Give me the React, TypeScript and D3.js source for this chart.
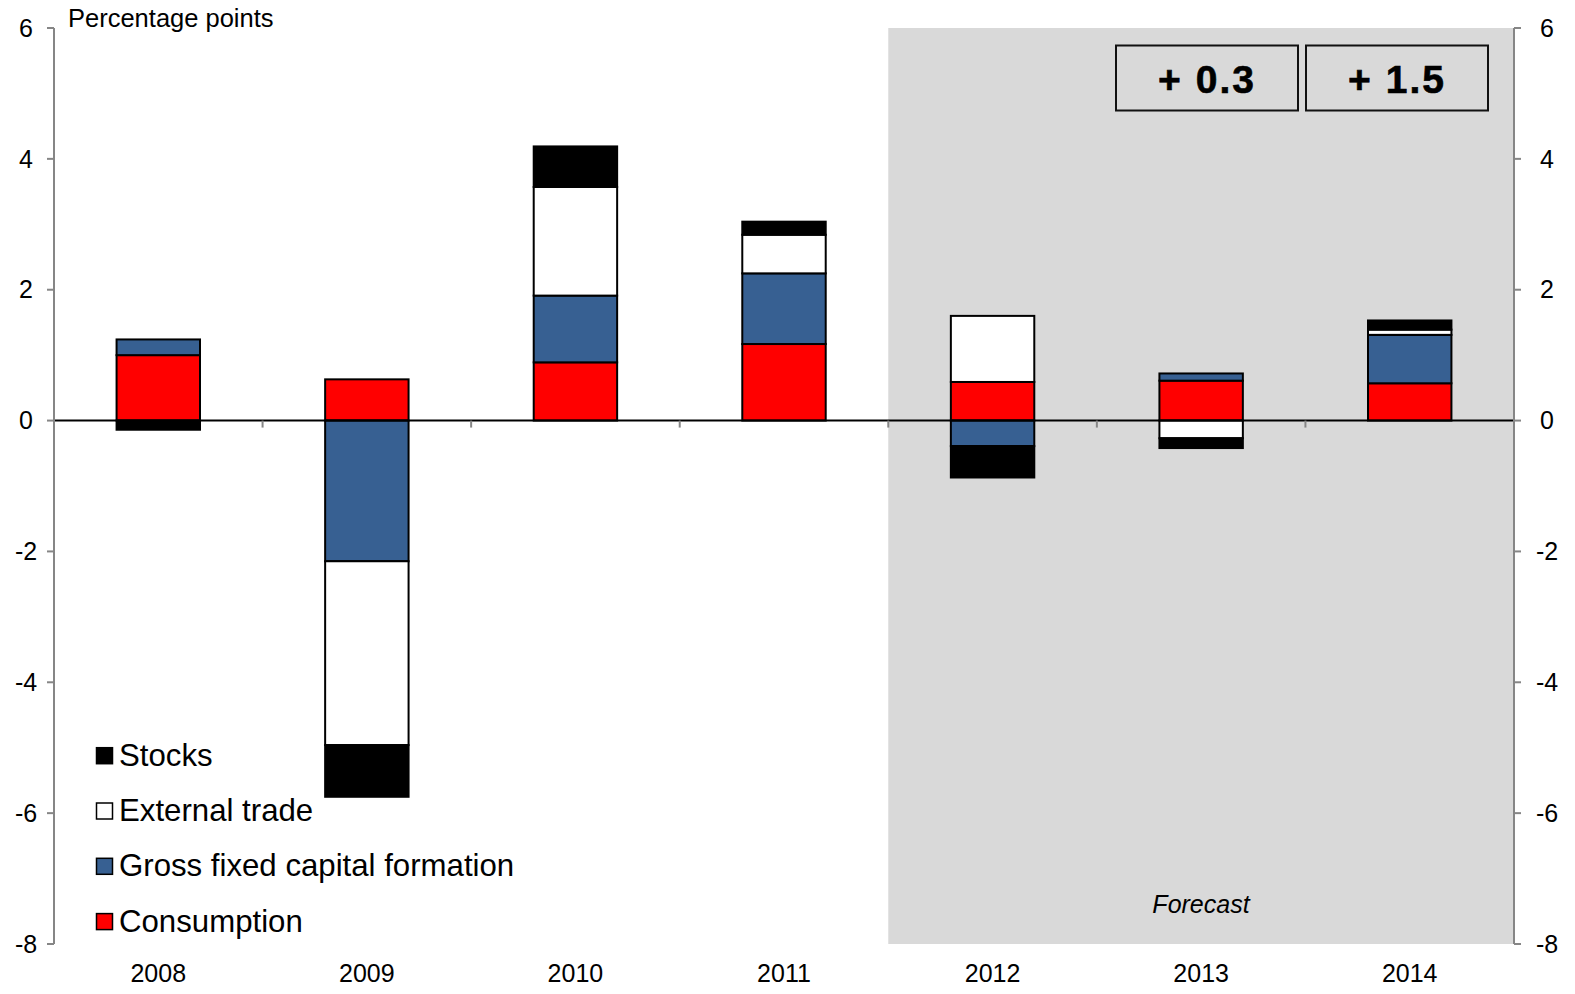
import React from "react";
import * as d3 from "d3";

const years = ["2008", "2009", "2010", "2011", "2012", "2013", "2014"];
const consumption = [1.0, 0.63, 0.89, 1.17, 0.59, 0.61, 0.57];
const gfcf = [0.24, -2.15, 1.02, 1.08, -0.39, 0.11, 0.74];
const externalTrade = [0.0, -2.81, 1.66, 0.59, 1.01, -0.27, 0.08];
const stocks = [-0.14, -0.79, 0.62, 0.2, -0.48, -0.15, 0.14];
const yTicks = [6, 4, 2, 0, -2, -4, -6, -8];
const forecastYears = ["2012", "2013", "2014"];
const boxLabels = ["+ 0.3", "+ 1.5"];

const seriesKeys = ["Consumption", "GFCF", "External trade", "Stocks"];
const seriesColors: Record<string, string> = {
  Consumption: "#FF0000",
  GFCF: "#376092",
  "External trade": "#FFFFFF",
  Stocks: "#000000",
};
const legendItems = [
  { key: "Stocks", label: "Stocks" },
  { key: "External trade", label: "External trade" },
  { key: "GFCF", label: "Gross fixed capital formation" },
  { key: "Consumption", label: "Consumption" },
];

const W = 1575;
const H = 994;
const left = 54;
const right = 1514;
const top = 28;
const bottom = 944;

export default function App() {
  const rows = years.map((y, i) => ({
    year: y,
    Consumption: consumption[i],
    GFCF: gfcf[i],
    "External trade": externalTrade[i],
    Stocks: stocks[i],
  }));
  const stack = d3
    .stack<any>()
    .keys(seriesKeys)
    .offset(d3.stackOffsetDiverging);
  const series = stack(rows);

  const x = d3
    .scaleBand<string>()
    .domain(years)
    .range([left, right])
    .paddingInner(0.6)
    .paddingOuter(0.3);
  const y = d3.scaleLinear().domain([-8, 6]).range([bottom, top]);
  const step = x.step();
  const fStart = (x(forecastYears[0]) as number) - (step - x.bandwidth()) / 2;

  const font = "Liberation Sans, Arial, sans-serif";
  const axisGray = "#868686";

  return (
    <svg
      width={W}
      height={H}
      style={{ position: "absolute", left: 0, top: 0, background: "#fff" }}
      fontFamily={font}
    >
      <rect x={0} y={0} width={W} height={H} fill="#fff" />
      {/* forecast shading */}
      <rect x={fStart} y={top} width={right - fStart} height={bottom - top} fill="#D9D9D9" />

      {/* boxes */}
      {boxLabels.map((t, i) => {
        const bx = 1116 + i * 190;
        return (
          <g key={t}>
            <rect x={bx} y={45.5} width={182} height={65} fill="none" stroke="#111" strokeWidth={2} />
            <text
              x={bx + 91}
              y={92.5}
              textAnchor="middle"
              fontSize={39}
              fontWeight="bold"
              letterSpacing={2}
              stroke="#000"
              strokeWidth={0.6}
            >
              {t}
            </text>
          </g>
        );
      })}

      {/* bars */}
      {series.map((s) => (
        <g key={s.key}>
          {s.map((d, i) => {
            const v0 = d[0];
            const v1 = d[1];
            if (Math.abs(v1 - v0) < 1e-9) return null;
            const yTop = y(Math.max(v0, v1));
            const yBot = y(Math.min(v0, v1));
            return (
              <rect
                key={i}
                x={x(years[i]) as number}
                y={yTop}
                width={x.bandwidth()}
                height={yBot - yTop}
                fill={seriesColors[s.key]}
                stroke="#000"
                strokeWidth={2}
              />
            );
          })}
        </g>
      ))}

      {/* zero line */}
      <line x1={left} x2={right} y1={y(0)} y2={y(0)} stroke="#000" strokeWidth={2} />
      {/* category ticks */}
      {d3.range(1, years.length).map((k) => (
        <line
          key={k}
          x1={left + k * step}
          x2={left + k * step}
          y1={y(0)}
          y2={y(0) + 7}
          stroke={axisGray}
          strokeWidth={2}
        />
      ))}

      {/* left axis */}
      <line x1={left} x2={left} y1={top} y2={bottom} stroke={axisGray} strokeWidth={2} />
      {yTicks.map((t) => (
        <g key={"l" + t}>
          <line x1={left - 7} x2={left} y1={y(t)} y2={y(t)} stroke={axisGray} strokeWidth={2} />
          <text x={26} y={y(t)} dy="0.35em" textAnchor="middle" fontSize={25}>
            {t}
          </text>
        </g>
      ))}
      {/* right axis */}
      <line x1={right} x2={right} y1={top} y2={bottom} stroke={axisGray} strokeWidth={2} />
      {yTicks.map((t) => (
        <g key={"r" + t}>
          <line x1={right} x2={right + 7} y1={y(t)} y2={y(t)} stroke={axisGray} strokeWidth={2} />
          <text x={1547} y={y(t)} dy="0.35em" textAnchor="middle" fontSize={25}>
            {t}
          </text>
        </g>
      ))}

      {/* x labels */}
      {years.map((yr) => (
        <text
          key={yr}
          x={(x(yr) as number) + x.bandwidth() / 2}
          y={982}
          textAnchor="middle"
          fontSize={25}
        >
          {yr}
        </text>
      ))}

      <text x={68} y={27} fontSize={25.5}>
        Percentage points
      </text>

      <text x={1201} y={913} textAnchor="middle" fontSize={25} fontStyle="italic">
        Forecast
      </text>

      {/* legend */}
      {legendItems.map((it, i) => {
        const base = 765.7 + i * 55.3;
        return (
          <g key={it.key}>
            <rect
              x={96.5}
              y={base - 18}
              width={16}
              height={16}
              fill={seriesColors[it.key]}
              stroke="#000"
              strokeWidth={1.5}
            />
            <text x={119} y={base} fontSize={31.2}>
              {it.label}
            </text>
          </g>
        );
      })}
    </svg>
  );
}
